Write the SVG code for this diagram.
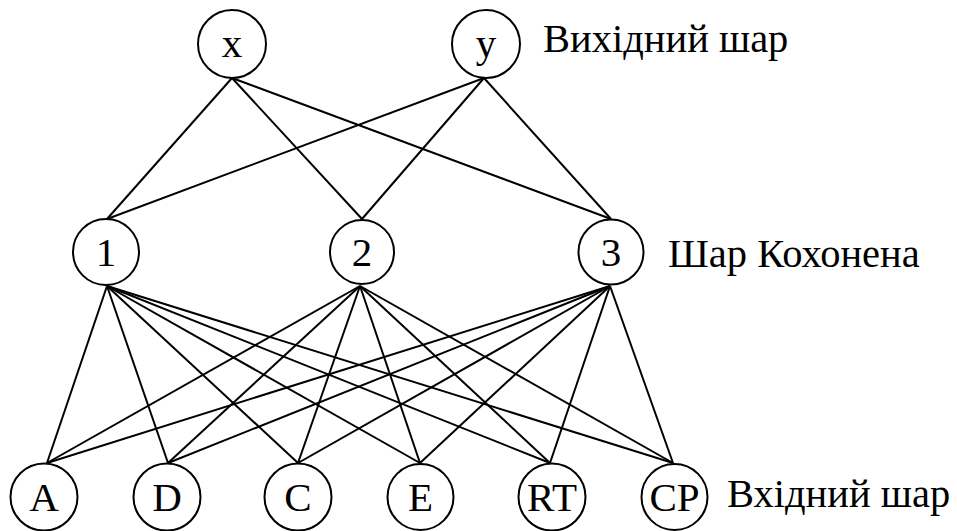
<svg xmlns="http://www.w3.org/2000/svg" width="957" height="531" viewBox="0 0 957 531">
<style>
.n{fill:#fff;stroke:#000;stroke-width:2}
.t{font-family:"Liberation Serif","Times New Roman",serif;font-size:41px;fill:#000;text-anchor:middle}
.l{font-family:"Liberation Serif","Times New Roman",serif;font-size:40.5px;fill:#000}
#edges line{stroke:#000;stroke-width:2}
</style>
<rect width="957" height="531" fill="#fff"/>
<g id="edges">
<line x1="232" y1="78" x2="107" y2="219"/>
<line x1="232" y1="78" x2="362" y2="219"/>
<line x1="232" y1="78" x2="611" y2="219"/>
<line x1="484" y1="78" x2="107" y2="219"/>
<line x1="484" y1="78" x2="362" y2="219"/>
<line x1="484" y1="78" x2="611" y2="219"/>
<line x1="107" y1="286" x2="47" y2="463"/>
<line x1="107" y1="286" x2="168" y2="463"/>
<line x1="107" y1="286" x2="298" y2="463"/>
<line x1="107" y1="286" x2="420" y2="463"/>
<line x1="107" y1="286" x2="550" y2="463"/>
<line x1="107" y1="286" x2="673" y2="463"/>
<line x1="360" y1="286" x2="47" y2="463"/>
<line x1="360" y1="286" x2="168" y2="463"/>
<line x1="360" y1="286" x2="298" y2="463"/>
<line x1="360" y1="286" x2="420" y2="463"/>
<line x1="360" y1="286" x2="550" y2="463"/>
<line x1="360" y1="286" x2="673" y2="463"/>
<line x1="610" y1="286" x2="47" y2="463"/>
<line x1="610" y1="286" x2="168" y2="463"/>
<line x1="610" y1="286" x2="298" y2="463"/>
<line x1="610" y1="286" x2="420" y2="463"/>
<line x1="610" y1="286" x2="550" y2="463"/>
<line x1="610" y1="286" x2="673" y2="463"/>
</g>
<g id="node-x"><circle class="n" cx="232" cy="44" r="34"/><text class="t" x="232" y="57">x</text></g>
<g id="node-y"><circle class="n" cx="486" cy="44" r="34"/><text class="t" x="486" y="57">y</text></g>
<g id="node-1"><circle class="n" cx="106" cy="252" r="33"/><text class="t" x="106" y="266">1</text></g>
<g id="node-2"><circle class="n" cx="362" cy="252" r="32"/><text class="t" x="362" y="266">2</text></g>
<g id="node-3"><circle class="n" cx="611" cy="252" r="32.5"/><text class="t" x="611" y="266">3</text></g>
<g id="node-A"><circle class="n" cx="44" cy="497" r="33.5"/><text class="t" x="44" y="511">A</text></g>
<g id="node-D"><circle class="n" cx="167" cy="497" r="33.5"/><text class="t" x="167" y="511">D</text></g>
<g id="node-C"><circle class="n" cx="298" cy="497" r="33.5"/><text class="t" x="298" y="511">C</text></g>
<g id="node-E"><circle class="n" cx="420.5" cy="497" r="33"/><text class="t" x="420.5" y="511">E</text></g>
<g id="node-RT"><circle class="n" cx="552" cy="497" r="33.5"/><text class="t" x="552" y="511">RT</text></g>
<g id="node-CP"><circle class="n" cx="674.5" cy="497" r="33"/><text class="t" x="674.5" y="511">CP</text></g>
<g id="labels">
<text class="l" x="543" y="52">Вихідний шар</text>
<text class="l" x="668" y="267">Шар Кохонена</text>
<text class="l" x="727" y="507">Вхідний шар</text>
</g>
</svg>
